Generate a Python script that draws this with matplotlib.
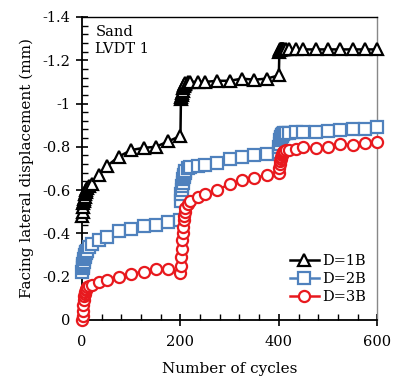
import matplotlib
matplotlib.use("Agg")
import matplotlib.pyplot as plt
from matplotlib.ticker import MultipleLocator, FuncFormatter

plt.rcParams['font.family'] = ['DejaVu Serif']

cycles = [0, 1, 2, 3, 4, 5, 6, 7, 8, 9, 10, 15, 20, 35, 50, 75, 100, 125, 150, 175, 200,
          201, 202, 203, 204, 205, 206, 207, 208, 209, 210, 215, 220, 235, 250, 275, 300, 325, 350, 375, 400,
          401, 402, 403, 404, 405, 406, 407, 408, 409, 410, 415, 420, 435, 450, 475, 500, 525, 550, 575, 600]

d1b = [-0.48, -0.50, -0.52, -0.54, -0.55, -0.56, -0.57, -0.58, -0.59, -0.60, -0.61, -0.62, -0.63, -0.67, -0.71,
       -0.755, -0.785, -0.795, -0.80, -0.825, -0.85,
       -1.02, -1.03, -1.04, -1.05, -1.06, -1.07, -1.08, -1.085, -1.09, -1.095, -1.10, -1.10, -1.10, -1.10,
       -1.105, -1.105, -1.115, -1.11, -1.115, -1.13,
       -1.24, -1.245, -1.25, -1.25, -1.25, -1.25, -1.25, -1.25, -1.25, -1.25, -1.25, -1.25, -1.25, -1.25,
       -1.25, -1.25, -1.25, -1.25, -1.25, -1.25]

d2b = [-0.22, -0.24, -0.25, -0.26, -0.27, -0.28, -0.29, -0.30, -0.31, -0.315, -0.32, -0.335, -0.35, -0.37, -0.385,
       -0.41, -0.42, -0.434, -0.44, -0.454, -0.46,
       -0.55, -0.58, -0.60, -0.62, -0.635, -0.65, -0.66, -0.67, -0.68, -0.69, -0.70, -0.705, -0.71, -0.716,
       -0.727, -0.743, -0.755, -0.762, -0.767, -0.775,
       -0.80, -0.815, -0.83, -0.84, -0.845, -0.85, -0.855, -0.858, -0.86, -0.862, -0.864, -0.865, -0.867, -0.87,
       -0.87, -0.873, -0.878, -0.88, -0.883, -0.89]

d3b = [0.0, -0.02, -0.04, -0.07, -0.09, -0.11, -0.12, -0.13, -0.14, -0.145, -0.15, -0.155, -0.16, -0.177, -0.185,
       -0.20, -0.213, -0.223, -0.234, -0.234, -0.216,
       -0.25, -0.29, -0.33, -0.37, -0.40, -0.43, -0.46, -0.48, -0.50, -0.515, -0.535, -0.55, -0.57, -0.58,
       -0.60, -0.628, -0.647, -0.655, -0.67, -0.678,
       -0.70, -0.72, -0.735, -0.745, -0.755, -0.76, -0.765, -0.77, -0.775, -0.78, -0.785, -0.787, -0.79, -0.797,
       -0.793, -0.797, -0.813, -0.809, -0.816, -0.824]

labels = ['D=1B', 'D=2B', 'D=3B']
colors = ['#000000', '#4F81BD', '#E8191E']
markers = ['^', 's', 'o']

fig = plt.figure(figsize=(3.93, 3.85), dpi=100)
ax = fig.add_axes([0.2087, 0.169, 0.7513, 0.787])

for vals, lab, col, mk in zip([d1b, d2b, d3b], labels, colors, markers):
    ax.plot(cycles, vals, color=col, marker=mk, markersize=8, markerfacecolor='white',
            markeredgecolor=col, markeredgewidth=1.6, linewidth=1.8, label=lab, clip_on=False, zorder=3)

ax.set_xlim(0, 600)
ax.set_ylim(0, -1.4)
ax.xaxis.set_major_locator(MultipleLocator(200))
ax.xaxis.set_minor_locator(MultipleLocator(40))
ax.yaxis.set_major_locator(MultipleLocator(0.2))
ax.yaxis.set_minor_locator(MultipleLocator(0.04))

def fmt(v, pos):
    if abs(v) < 1e-9:
        return '0'
    s = ('%.1f' % v).rstrip('0').rstrip('.')
    return s

ax.yaxis.set_major_formatter(FuncFormatter(fmt))
ax.tick_params(axis='both', which='major', direction='inout', length=9, width=1.2, labelsize=10.5, color='black')
ax.tick_params(axis='both', which='minor', direction='in', length=4, width=1.0, color='black')
ax.tick_params(axis='x', pad=6)
ax.tick_params(axis='y', pad=4)

for s in ['left', 'bottom']:
    ax.spines[s].set_linewidth(1.3)
ax.spines['top'].set_linewidth(1.0)
ax.spines['right'].set_color('#888888')
ax.spines['right'].set_linewidth(1.0)

ax.set_xlabel('Number of cycles', fontsize=11, labelpad=10)
ax.set_ylabel('Facing lateral displacement (mm)', fontsize=11, labelpad=6)

ax.text(0.045, 0.975, 'Sand\nLVDT 1', transform=ax.transAxes, fontsize=10.5,
        va='top', ha='left', linespacing=1.35)

leg = ax.legend(loc='lower right', frameon=False, fontsize=10.5, handlelength=2.0,
                handletextpad=0.2, labelspacing=0.25, borderaxespad=0.4,
                bbox_to_anchor=(1.0, 0.015))

fig.savefig('out.png', dpi=100)
